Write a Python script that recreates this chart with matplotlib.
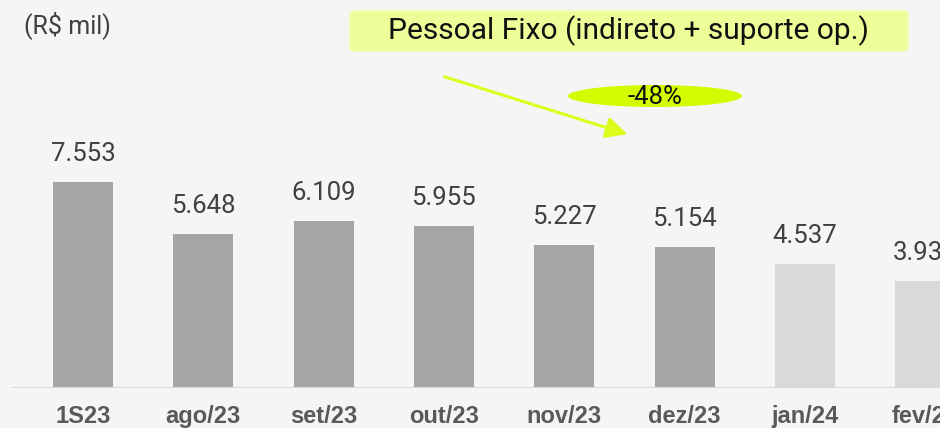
import matplotlib.pyplot as plt
from matplotlib.patches import FancyBboxPatch, Ellipse, FancyArrowPatch

# data (R$ mil)
months = ['1S23', 'ago/23', 'set/23', 'out/23', 'nov/23', 'dez/23', 'jan/24', 'fev/24']
values = [7553, 5648, 6109, 5955, 5227, 5154, 4537, 3934]
labels = ['7.553', '5.648', '6.109', '5.955', '5.227', '5.154', '4.537', '3.934']
colors = ['#a6a6a6'] * 6 + ['#d9d9d9'] * 2

W, H = 940, 428
bg = '#f5f5f5'

fig = plt.figure(figsize=(W / 100, H / 100), dpi=100, facecolor=bg)


def fx(px):
    return px / W


def fy(py):
    return 1 - py / H


# axes: category centres at 83 + 120.3*i px, baseline at y=388 px
step = 120.3
x0 = 83
ax = fig.add_axes([0, 40 / H, 1, 272.7 / H])
ax.set_facecolor(bg)
ax.set_xlim(-x0 / step, (W - x0) / step)
ax.set_ylim(0, 10000)
ax.bar(range(len(months)), values, width=60 / step, color=colors)

for i, (v, lab) in enumerate(zip(values, labels)):
    ax.annotate(lab, (i, v), xytext=(0, 16), textcoords='offset pixels',
                ha='center', va='bottom', fontsize=18.5, color='#404040',
                family='Roboto')

ax.axhline(0, xmin=13 / W, xmax=1, color='#d9d9d9', lw=1.5)
ax.set_xticks(range(len(months)))
ax.set_xticklabels(months, fontsize=17, fontweight='bold', color='#595959',
                   family='Liberation Sans')
ax.tick_params(axis='x', length=0, pad=12)
ax.set_yticks([])
for s in ax.spines.values():
    s.set_visible(False)

# unit label
fig.text(fx(24), fy(25), '(R$ mil)', fontsize=18, color='#404040',
         family='Roboto', ha='left', va='center')

# title box
box = FancyBboxPatch((fx(350), fy(51)), fx(908 - 350), (51 - 11) / H,
                     boxstyle='round,pad=0,rounding_size=0.008',
                     transform=fig.transFigure, facecolor='#eefd98',
                     edgecolor='#f2fdb0', lw=1.5)
fig.patches.append(box)
fig.text(fx(628), fy(31), 'Pessoal Fixo (indireto + suporte op.)',
         fontsize=21.5, color='#111111', family='Roboto', ha='center', va='center')

# variation bubble
ell = Ellipse((fx(655), fy(96)), fx(174), 22 / H, transform=fig.transFigure,
              facecolor='#d4fc00', edgecolor='none')
fig.patches.append(ell)
fig.text(fx(655), fy(97), '-48%', fontsize=18.5, color='#111111',
         family='Roboto', ha='center', va='center')

# trend arrow
arr = FancyArrowPatch((fx(442), fy(76)), (fx(630), fy(135)),
                      transform=fig.transFigure, arrowstyle='-|>,head_length=8,head_width=4',
                      color='#dcfc1c', lw=2.2, mutation_scale=1.6)
fig.patches.append(arr)

fig.savefig('out.png', dpi=100, facecolor=bg)
